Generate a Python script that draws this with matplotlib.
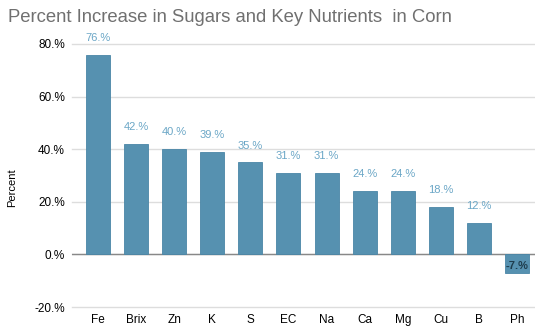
import matplotlib.pyplot as plt

plt.rcParams["font.family"] = ["Liberation Sans", "DejaVu Sans"]

nutrients = ["Fe", "Brix", "Zn", "K", "S", "EC", "Na", "Ca", "Mg", "Cu", "B", "Ph"]
increase = [76, 42, 40, 39, 35, 31, 31, 24, 24, 18, 12, -7]
yticks = [-20, 0, 20, 40, 60, 80]

fig = plt.figure(figsize=(5.35, 3.26), dpi=100)
ax = fig.add_axes([72 / 535, 1 - 307 / 326, 1 - 72 / 535, (307 - 44) / 326])

x = range(len(nutrients))
ax.bar(x, increase, width=0.63, color="#5691b0", edgecolor="#4a86a6", linewidth=0.6, zorder=3)

for i, v in enumerate(increase):
    if v >= 0:
        ax.text(i, v + 4.5, f"{v}.%", ha="center", va="bottom", fontsize=8, color="#6aa6c6",
                clip_on=False)
    else:
        ax.text(i, v / 2 - 1, f"{v}.%", ha="center", va="center", fontsize=8,
                color="#1e3d4d", fontweight="bold")

ax.set_xlim(-0.68, 11.47)
ax.set_ylim(-20, 80)
ax.set_yticks(yticks)
ax.set_yticklabels([f"{t}.%" for t in yticks], fontsize=8.5)
ax.set_xticks(list(x))
ax.set_xticklabels(nutrients, fontsize=8.5)
ax.tick_params(axis="y", length=0, pad=5)
ax.tick_params(axis="x", length=0, pad=5)
ax.yaxis.grid(True, color="#dddddd", linewidth=1, zorder=0)
for line in ax.get_ygridlines():
    line.set_clip_on(False)
ax.axhline(0, color="#888888", linewidth=1, zorder=2)
for s in ax.spines.values():
    s.set_visible(False)

fig.text(12 / 535, 1 - 188 / 326, "Percent", rotation=90, ha="center", va="center", fontsize=8)
fig.text(8 / 535, 1 - 18 / 326, "Percent Increase in Sugars and Key Nutrients  in Corn",
         ha="left", va="center", fontsize=13.3, color="#707070")

fig.savefig("out.png", dpi=100)
